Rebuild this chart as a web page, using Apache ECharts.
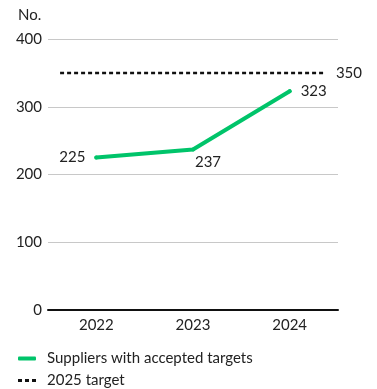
<!DOCTYPE html>
<html>
<head>
<meta charset="utf-8">
<style>
  html, body { margin: 0; padding: 0; background: #fff; }
  #chart { width: 377px; height: 389px; }
</style>
<script src="https://cdn.jsdelivr.net/npm/echarts@6/dist/echarts.min.js"></script>
</head>
<body>
<div id="chart"></div>
<script>
// Suppliers with accepted science-based targets, by year
const years = ['2022', '2023', '2024'];
const suppliers = [225, 237, 323];
const target = 350;
const targetLabel = '2025 target';
const seriesName = 'Suppliers with accepted targets';
const yTicks = [0, 100, 200, 300, 400];
const labelSides = ['left', 'bottom', 'right'];

const FONT = 'Lato, "Noto Sans", sans-serif';
const FS = 15;
const TEXT = '#222';
const GREEN = '#00c46a';

const legendText = { fontFamily: FONT, fontSize: FS, color: TEXT, padding: [0, 0, 0, 6] };

const chart = echarts.init(document.getElementById('chart'), null, { renderer: 'canvas' });

chart.setOption({
  animation: false,
  textStyle: { fontFamily: FONT, color: TEXT },
  grid: { left: 48, right: 39, top: 39, bottom: 79, containLabel: false },
  title: {
    text: 'No.', left: 18, top: 8, padding: 0,
    textStyle: { fontFamily: FONT, fontSize: FS, fontWeight: 'normal', color: TEXT }
  },
  legend: [{
    left: 13, top: 346, itemWidth: 18, itemHeight: 4,
    icon: 'roundRect',
    textStyle: legendText,
    data: [{ name: seriesName, itemStyle: { color: GREEN, opacity: 1 } }]
  }, {
    left: 13, top: 368, itemWidth: 18, itemHeight: 3,
    icon: 'path://M0,0h4v3h-4z M7,0h4v3h-4z M14,0h4v3h-4z',
    textStyle: legendText,
    data: [{ name: targetLabel, itemStyle: { color: '#111', opacity: 1 } }]
  }],
  xAxis: [{
    type: 'category', data: years, boundaryGap: true,
    axisLine: { show: true, lineStyle: { color: '#111', width: 2 } },
    axisTick: { show: false },
    axisLabel: { fontFamily: FONT, fontSize: FS, color: TEXT, margin: 8 }
  }, {
    // helper axis that spans the plot width, used to place the target line
    type: 'value', min: 0, max: years.length, show: false
  }],
  yAxis: {
    type: 'value', min: yTicks[0], max: yTicks[yTicks.length - 1], interval: 100,
    axisLine: { show: false }, axisTick: { show: false },
    axisLabel: { fontFamily: FONT, fontSize: FS, color: TEXT, margin: 6 },
    splitLine: { lineStyle: { color: '#c8c8c8', width: 1 } }
  },
  series: [{
    name: seriesName, type: 'line', xAxisIndex: 0,
    data: suppliers.map((v, i) => ({
      value: v,
      label: labelSides[i] === 'bottom'
        ? { position: 'bottom', distance: 3, offset: [15, 0] }
        : { position: labelSides[i], distance: 9 }
    })),
    symbol: 'circle', symbolSize: 4, showSymbol: true,
    lineStyle: { color: GREEN, width: 4, cap: 'round', join: 'round' },
    itemStyle: { color: GREEN },
    label: { show: true, fontFamily: FONT, fontSize: FS, color: TEXT },
    emphasis: { disabled: true },
    z: 3
  }, {
    name: targetLabel, type: 'line', xAxisIndex: 1,
    data: [[0.125, target], [years.length - 0.125, target]],
    symbol: 'none', showSymbol: false,
    lineStyle: { color: '#111', width: 2.5, type: [4, 3] },
    itemStyle: { color: '#111' },
    endLabel: { show: true, formatter: String(target), fontFamily: FONT, fontSize: FS, color: TEXT, distance: 10 },
    z: 2
  }]
});
</script>
</body>
</html>
